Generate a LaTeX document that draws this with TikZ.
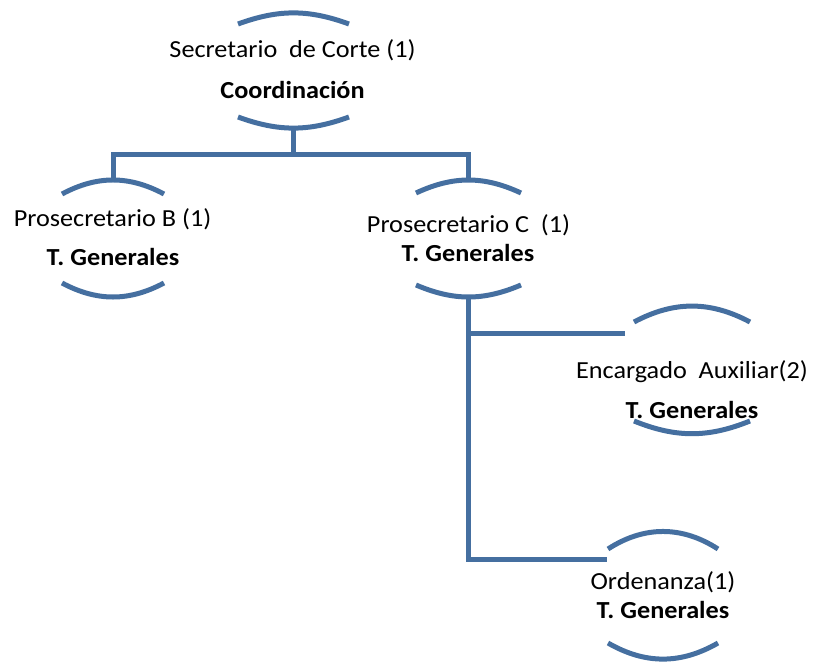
\documentclass[tikz,border=0pt]{standalone}
\usepackage{fontspec}
\setmainfont{Carlito}[FakeStretch=1.07]
\definecolor{lineblue}{RGB}{69,111,160}
\begin{document}
\begin{tikzpicture}[x=1pt,y=-1pt,
  conn/.style={draw=lineblue,line width=5pt},
  arcline/.style={draw=lineblue,line width=5pt},
  title/.style={anchor=base,inner sep=0pt,font=\fontsize{24.5}{29}\selectfont},
  sub/.style={anchor=base,inner sep=0pt,font=\fontsize{24.5}{29}\selectfont\bfseries}]
\useasboundingbox (0,0) rectangle (815,663);
% --- Secretario de Corte
\node[title] (sec) at (292.5,58) {Secretario\ \ de Corte (1)};
\node[sub] (sec2) at (292.5,99) {Coordinación};
\draw[arcline] (238,24) to[bend left=20] (349,24);
\draw[arcline] (238,117) to[bend right=20] (349,117);
\coordinate (secB) at (293.5,127);
% --- Prosecretario B
\node[title] (pb) at (112.5,227) {Prosecretario B (1)};
\node[sub] (pb2) at (113,266) {T. Generales};
\draw[arcline] (62,194) to[bend left=28] (164,194);
\draw[arcline] (62,283) to[bend right=28] (164,283);
\coordinate (pbT) at (113,180);
% --- Prosecretario C
\node[title] (pc) at (468.5,233) {Prosecretario C\ \ (1)};
\node[sub] (pc2) at (468,262) {T. Generales};
\draw[arcline] (416,193) to[bend left=25] (521,193);
\draw[arcline] (416,285) to[bend right=23] (521,285);
\coordinate (pcT) at (468.5,180);
\coordinate (pcB) at (468.5,296);
% --- Encargado Auxiliar
\node[title] (ea) at (692,379) {Encargado\ \ Auxiliar(2)};
\node[sub] (ea2) at (692,419) {T. Generales};
\draw[arcline] (634,322) to[bend left=28] (750,322);
\draw[arcline] (634,421) to[bend right=22] (750,421);
\coordinate (eaIn) at (625,334);
% --- Ordenanza
\node[title] (or) at (663,589) {Ordenanza(1)};
\node[sub] (or2) at (663,618) {T. Generales};
\draw[arcline] (608,549) to[bend left=33] (718,549);
\draw[arcline] (608,643) to[bend right=30] (718,643);
\coordinate (orIn) at (607,559);
% --- connectors
\coordinate (bar) at (293.5,155);
\draw[conn] (secB) -- (bar);
\draw[conn] (pbT) -- (pbT |- bar) -- (pcT |- bar) -- (pcT);
\draw[conn] (pcB) -- (pcB |- orIn) -- (orIn);
\draw[conn] (pcB |- eaIn) -- (eaIn);
\end{tikzpicture}
\end{document}
